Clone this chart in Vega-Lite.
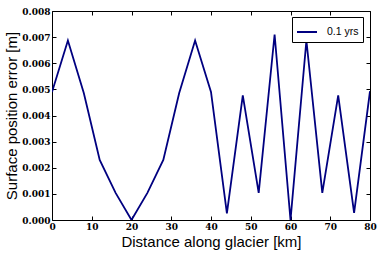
{
  "$schema": "https://vega.github.io/schema/vega-lite/v6.json",
  "width": 318,
  "height": 209,
  "autosize": {"type": "none"},
  "padding": {"left": 52, "top": 11, "right": 12, "bottom": 35},
  "background": "white",
  "config": {
    "view": {"stroke": "black", "strokeWidth": 1},
    "axis": {
      "domain": false,
      "grid": false,
      "tickColor": "black",
      "tickSize": -4,
      "labelFont": "DejaVu Serif",
      "labelFontSize": 9,
      "labelFontWeight": "bold",
      "labelColor": "black",
      "titleFont": "Liberation Sans",
      "titleFontSize": 15,
      "titleFontWeight": "normal",
      "titleColor": "black"
    }
  },
  "data": {
    "values": [
      {"x": 0, "y": 0.0049, "s": "0.1 yrs"},
      {"x": 4, "y": 0.00687, "s": "0.1 yrs"},
      {"x": 8, "y": 0.00486, "s": "0.1 yrs"},
      {"x": 12, "y": 0.0023, "s": "0.1 yrs"},
      {"x": 16, "y": 0.00104, "s": "0.1 yrs"},
      {"x": 20, "y": 0.0, "s": "0.1 yrs"},
      {"x": 24, "y": 0.00104, "s": "0.1 yrs"},
      {"x": 28, "y": 0.0023, "s": "0.1 yrs"},
      {"x": 32, "y": 0.00486, "s": "0.1 yrs"},
      {"x": 36, "y": 0.00687, "s": "0.1 yrs"},
      {"x": 40, "y": 0.0049, "s": "0.1 yrs"},
      {"x": 44, "y": 0.00025, "s": "0.1 yrs"},
      {"x": 48, "y": 0.00477, "s": "0.1 yrs"},
      {"x": 52, "y": 0.00104, "s": "0.1 yrs"},
      {"x": 56, "y": 0.0071, "s": "0.1 yrs"},
      {"x": 60, "y": 0.0, "s": "0.1 yrs"},
      {"x": 64, "y": 0.00687, "s": "0.1 yrs"},
      {"x": 68, "y": 0.00104, "s": "0.1 yrs"},
      {"x": 72, "y": 0.00477, "s": "0.1 yrs"},
      {"x": 76, "y": 0.00027, "s": "0.1 yrs"},
      {"x": 80, "y": 0.00493, "s": "0.1 yrs"}
    ]
  },
  "layer": [
    {
      "mark": {"type": "line", "strokeWidth": 1.8, "clip": true},
      "encoding": {
        "x": {
          "field": "x", "type": "quantitative",
          "scale": {"domain": [0, 80], "nice": false, "zero": false},
          "axis": {"orient": "bottom", "values": [0, 10, 20, 30, 40, 50, 60, 70, 80], "title": "Distance along glacier [km]", "labelPadding": 6, "titlePadding": 3, "labelFlush": false}
        },
        "y": {
          "field": "y", "type": "quantitative",
          "scale": {"domain": [0, 0.008], "nice": false},
          "axis": {"orient": "left", "values": [0, 0.001, 0.002, 0.003, 0.004, 0.005, 0.006, 0.007, 0.008], "format": ".3f", "title": "Surface position error [m]", "labelPadding": 6, "titlePadding": 2, "labelFlush": false}
        },
        "color": {
          "field": "s", "type": "nominal",
          "scale": {"range": ["#000080"]},
          "legend": {
            "title": null,
            "orient": "none",
            "legendX": 240,
            "legendY": 6,
            "symbolType": "stroke",
            "symbolSize": 400,
            "symbolStrokeWidth": 2,
            "labelFont": "Liberation Sans",
            "labelFontSize": 10.5,
            "labelColor": "black",
            "labelOffset": 9,
            "padding": 4,
            "strokeColor": "black",
            "fillColor": "white",
            "cornerRadius": 0
          }
        }
      }
    },
    {
      "mark": {"type": "line", "opacity": 0},
      "encoding": {
        "x": {
          "field": "x", "type": "quantitative",
          "axis": {"orient": "top", "values": [0, 10, 20, 30, 40, 50, 60, 70, 80], "labels": false, "title": null}
        },
        "y": {
          "field": "y", "type": "quantitative",
          "axis": {"orient": "right", "values": [0, 0.001, 0.002, 0.003, 0.004, 0.005, 0.006, 0.007, 0.008], "labels": false, "title": null}
        }
      }
    }
  ],
  "resolve": {"axis": {"x": "independent", "y": "independent"}}
}
